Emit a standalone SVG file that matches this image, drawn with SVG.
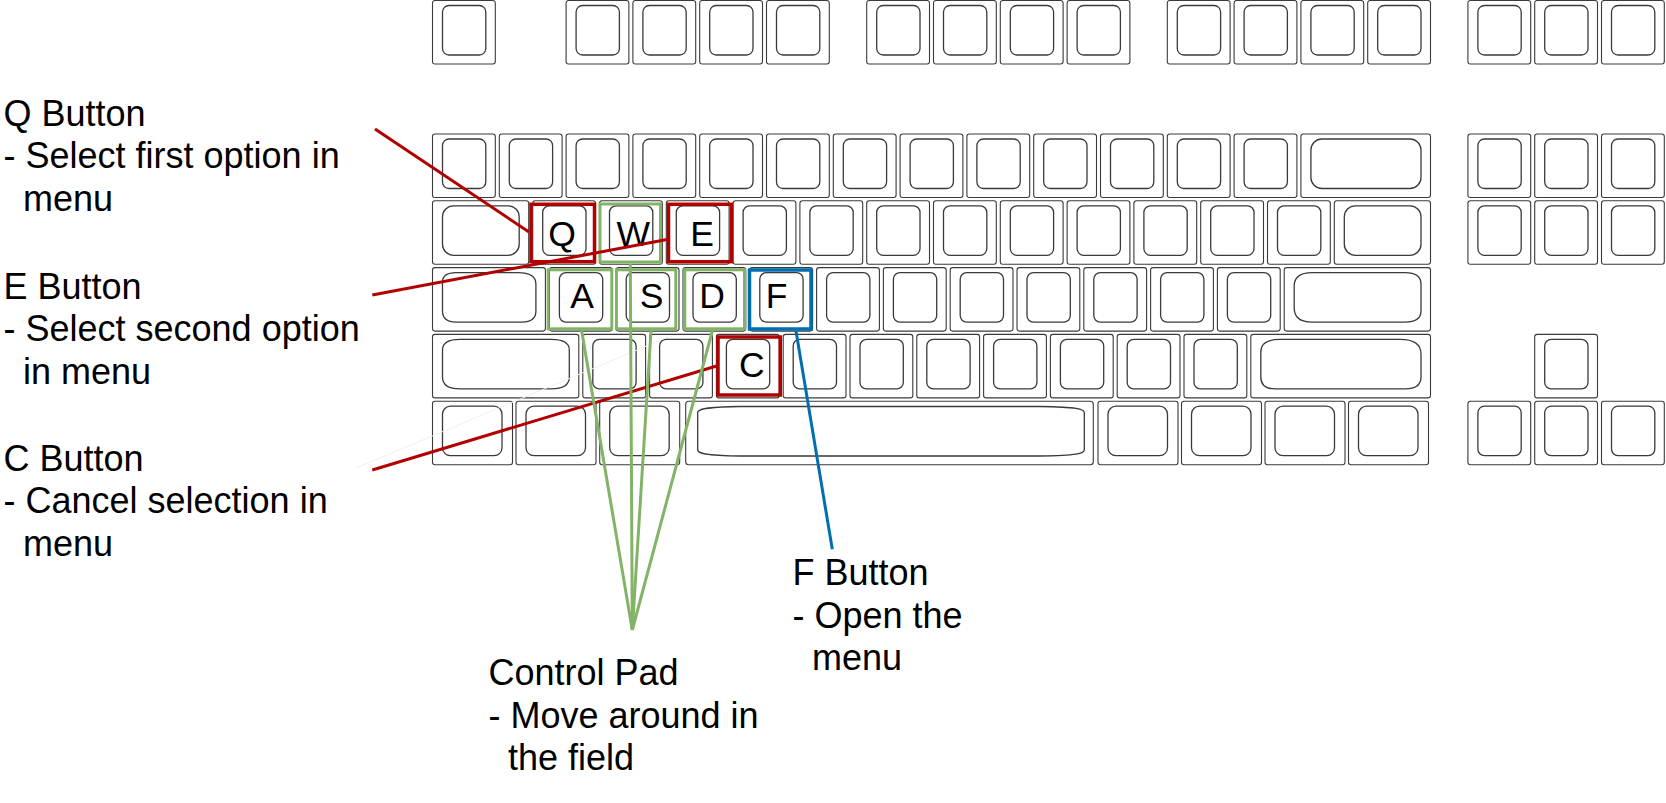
<svg xmlns="http://www.w3.org/2000/svg" xmlns:xlink="http://www.w3.org/1999/xlink" width="1666" height="803" viewBox="0 0 1666 803">
<style>
.ko{fill:#fff;stroke:#3a3a3a;stroke-width:1.1}
.ki{fill:#fff;stroke:#3a3a3a;stroke-width:1.3}
.lbl{font-family:"Liberation Sans",Arial,sans-serif;font-size:36px;fill:#000}
.kl{font-family:"Liberation Sans",Arial,sans-serif;font-size:35.5px;fill:#000;text-anchor:middle}
.hr{fill:none;stroke:#B20000;stroke-width:3.5}
.hg{fill:none;stroke:#82B366;stroke-width:3}
.hb{fill:none;stroke:#006EAF;stroke-width:3.5}
.cr{fill:none;stroke:#B20000;stroke-width:3}
.cg{fill:none;stroke:#82B366;stroke-width:3}
.cb{fill:none;stroke:#006EAF;stroke-width:3}
</style>
<defs>
<g id="k"><rect class="ko" width="62.8" height="63.5" rx="2.5"/><rect class="ki" x="10" y="5" width="43.3" height="49.5" rx="6.5"/></g>
<g id="k125"><rect class="ko" width="80" height="63.5" rx="2.5"/><rect class="ki" x="10" y="5" width="59.5" height="49.5" rx="8"/></g>
</defs>
<rect width="1666" height="803" fill="#fff"/>
<g id="keyboard">
<!-- function row -->
<use href="#k" x="432.5" y="0.5"/>
<use href="#k" x="566.1" y="0.5"/><use href="#k" x="632.9" y="0.5"/><use href="#k" x="699.7" y="0.5"/><use href="#k" x="766.5" y="0.5"/>
<use href="#k" x="866.7" y="0.5"/><use href="#k" x="933.5" y="0.5"/><use href="#k" x="1000.3" y="0.5"/><use href="#k" x="1067.1" y="0.5"/>
<use href="#k" x="1167.3" y="0.5"/><use href="#k" x="1234.1" y="0.5"/><use href="#k" x="1300.9" y="0.5"/><use href="#k" x="1367.7" y="0.5"/>
<use href="#k" x="1467.9" y="0.5"/><use href="#k" x="1534.7" y="0.5"/><use href="#k" x="1601.5" y="0.5"/>
<!-- number row -->
<use href="#k" x="432.5" y="134"/><use href="#k" x="499.3" y="134"/><use href="#k" x="566.1" y="134"/><use href="#k" x="632.9" y="134"/>
<use href="#k" x="699.7" y="134"/><use href="#k" x="766.5" y="134"/><use href="#k" x="833.3" y="134"/><use href="#k" x="900.1" y="134"/>
<use href="#k" x="966.9" y="134"/><use href="#k" x="1033.7" y="134"/><use href="#k" x="1100.5" y="134"/><use href="#k" x="1167.3" y="134"/>
<use href="#k" x="1234.1" y="134"/>
<rect class="ko" x="1300.9" y="134" width="129.6" height="63.5" rx="2.5"/><rect class="ki" x="1310.9" y="139" width="110.1" height="49.5" rx="11"/>
<use href="#k" x="1467.9" y="134"/><use href="#k" x="1534.7" y="134"/><use href="#k" x="1601.5" y="134"/>
<!-- qwerty row -->
<rect class="ko" x="432.5" y="200.8" width="96.2" height="63.5" rx="2.5"/><rect class="ki" x="442.5" y="205.8" width="76.7" height="49.5" rx="11"/>
<use href="#k" x="532.7" y="200.8"/><use href="#k" x="599.5" y="200.8"/><use href="#k" x="666.3" y="200.8"/><use href="#k" x="733.1" y="200.8"/>
<use href="#k" x="799.9" y="200.8"/><use href="#k" x="866.7" y="200.8"/><use href="#k" x="933.5" y="200.8"/><use href="#k" x="1000.3" y="200.8"/>
<use href="#k" x="1067.1" y="200.8"/><use href="#k" x="1133.9" y="200.8"/><use href="#k" x="1200.7" y="200.8"/><use href="#k" x="1267.5" y="200.8"/>
<rect class="ko" x="1334.3" y="200.8" width="96.2" height="63.5" rx="2.5"/><rect class="ki" x="1344.3" y="205.8" width="76.7" height="49.5" rx="11"/>
<use href="#k" x="1467.9" y="200.8"/><use href="#k" x="1534.7" y="200.8"/><use href="#k" x="1601.5" y="200.8"/>
<!-- home row -->
<rect class="ko" x="432.5" y="267.6" width="112.9" height="63.5" rx="2.5"/><path class="ki" d="M442.5,282 Q442.5,272.6 456,272.6 L518,272.6 Q535.9,272.6 535.9,284 L535.9,311 Q535.9,322.1 522,322.1 L456,322.1 Q442.5,322.1 442.5,311 Z"/>
<use href="#k" x="549.4" y="267.6"/><use href="#k" x="616.2" y="267.6"/><use href="#k" x="683" y="267.6"/><use href="#k" x="749.8" y="267.6"/>
<use href="#k" x="816.6" y="267.6"/><use href="#k" x="883.4" y="267.6"/><use href="#k" x="950.2" y="267.6"/><use href="#k" x="1017" y="267.6"/>
<use href="#k" x="1083.8" y="267.6"/><use href="#k" x="1150.6" y="267.6"/><use href="#k" x="1217.4" y="267.6"/>
<rect class="ko" x="1284.2" y="267.6" width="146.3" height="63.5" rx="2.5"/><path class="ki" d="M1294.2,286 Q1294.2,272.6 1312,272.6 L1405,272.6 Q1421,272.6 1421,284 L1421,311 Q1421,322.1 1405,322.1 L1312,322.1 Q1294.2,322.1 1294.2,308 Z"/>
<!-- shift row -->
<rect class="ko" x="432.5" y="334.4" width="146.3" height="63.5" rx="2.5"/><path class="ki" d="M442.5,350 Q442.5,339.4 460,339.4 L551,339.4 Q569.3,339.4 569.3,350 L569.3,377 Q569.3,388.9 551,388.9 L460,388.9 Q442.5,388.9 442.5,377 Z"/>
<use href="#k" x="582.8" y="334.4"/><use href="#k" x="649.6" y="334.4"/><use href="#k" x="716.4" y="334.4"/><use href="#k" x="783.2" y="334.4"/>
<use href="#k" x="850" y="334.4"/><use href="#k" x="916.8" y="334.4"/><use href="#k" x="983.6" y="334.4"/><use href="#k" x="1050.4" y="334.4"/>
<use href="#k" x="1117.2" y="334.4"/><use href="#k" x="1184" y="334.4"/>
<rect class="ko" x="1250.8" y="334.4" width="179.7" height="63.5" rx="2.5"/><path class="ki" d="M1260.8,352 Q1260.8,339.4 1280,339.4 L1400,339.4 Q1421,339.4 1421,354 L1421,377 Q1421,388.9 1405,388.9 L1275,388.9 Q1260.8,388.9 1260.8,377 Z"/>
<use href="#k" x="1534.7" y="334.4"/>
<!-- bottom row -->
<use href="#k125" x="432.5" y="401.2"/><use href="#k125" x="516" y="401.2"/><use href="#k125" x="599.7" y="401.2"/>
<rect class="ko" x="685.7" y="401.2" width="407.6" height="63.5" rx="3"/>
<path class="ki" d="M697.7,412.5 C697.7,409 705,407 740,406.5 L1040,406.5 C1077,407 1084.3,409 1084.3,412.5 L1084.3,450 C1084.3,453.5 1077,455.5 1040,456 L740,456 C705,455.5 697.7,453.5 697.7,450 Z"/>
<use href="#k125" x="1098" y="401.2"/><use href="#k125" x="1181.5" y="401.2"/><use href="#k125" x="1265" y="401.2"/><use href="#k125" x="1348.5" y="401.2"/>
<use href="#k" x="1467.9" y="401.2"/><use href="#k" x="1534.7" y="401.2"/><use href="#k" x="1601.5" y="401.2"/>
</g>
<g id="key-q"><rect class="hr" x="531" y="204.3" width="63.5" height="57.4"/><text class="kl" x="562" y="246">Q</text></g>
<g id="key-w"><rect class="hg" x="600" y="204" width="60.5" height="58"/><text class="kl" x="633.3" y="246">W</text></g>
<g id="key-e"><rect class="hr" x="668.5" y="204.3" width="63" height="57.4"/><text class="kl" x="702" y="246">E</text></g>
<g id="key-a"><rect class="hg" x="548.2" y="269.8" width="63.6" height="59"/><text class="kl" x="582" y="308">A</text></g>
<g id="key-s"><rect class="hg" x="616.5" y="269.8" width="59.3" height="59"/><text class="kl" x="651.7" y="308">S</text></g>
<g id="key-d"><rect class="hg" x="684.8" y="269.8" width="59.7" height="59"/><text class="kl" x="712" y="308">D</text></g>
<g id="key-f"><rect class="hb" x="749.5" y="270" width="61.5" height="59"/><text class="kl" x="776.7" y="308">F</text></g>
<g id="key-c"><rect class="hr" x="718" y="337" width="62.3" height="58"/><text class="kl" x="751.7" y="376.5">C</text></g>
<g id="connectors">
<line x1="356" y1="468" x2="668" y2="337" stroke="#f3efe6" stroke-width="1"/>
<line class="cr" x1="375" y1="129" x2="529" y2="232"/>
<line class="cr" x1="372.3" y1="295" x2="667" y2="239.5"/>
<line class="cr" x1="372.3" y1="470" x2="716.5" y2="366"/>
<line class="cg" x1="581.7" y1="331" x2="632.3" y2="630"/>
<line class="cg" x1="630.3" y1="264" x2="632.3" y2="630"/>
<line class="cg" x1="651" y1="331" x2="632.3" y2="630"/>
<line class="cg" x1="712.3" y1="331" x2="632.3" y2="630"/>
<line class="cb" x1="796" y1="331" x2="832.3" y2="549.3"/>
</g>
<g id="label-q"><text class="lbl" x="3.5" y="125.7">Q Button</text><text class="lbl" x="3.5" y="168.2">- Select first option in</text><text class="lbl" x="23" y="210.7">menu</text></g>
<g id="label-e"><text class="lbl" x="3.5" y="298.5">E Button</text><text class="lbl" x="3.5" y="341">- Select second option</text><text class="lbl" x="23" y="383.5">in menu</text></g>
<g id="label-c"><text class="lbl" x="3.5" y="470.5">C Button</text><text class="lbl" x="3.5" y="513">- Cancel selection in</text><text class="lbl" x="23" y="555.5">menu</text></g>
<g id="label-f"><text class="lbl" x="792.5" y="585">F Button</text><text class="lbl" x="792.5" y="627.5">- Open the</text><text class="lbl" x="812" y="670">menu</text></g>
<g id="label-pad"><text class="lbl" x="488.5" y="685">Control Pad</text><text class="lbl" x="488.5" y="727.5">- Move around in</text><text class="lbl" x="508" y="770">the field</text></g>
</svg>
